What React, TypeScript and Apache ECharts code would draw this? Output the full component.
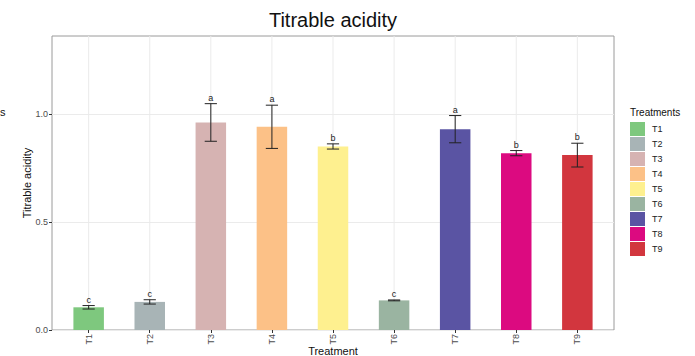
import React, { useEffect, useRef } from "react";
import * as echarts from "echarts";

const categories = ["T1", "T2", "T3", "T4", "T5", "T6", "T7", "T8", "T9"];
const means = [0.105, 0.13, 0.96, 0.94, 0.849, 0.137, 0.929, 0.818, 0.809];
const errors = [0.008, 0.01, 0.087, 0.1, 0.012, 0.002, 0.063, 0.012, 0.055];
const letters = ["c", "c", "a", "a", "b", "c", "a", "b", "b"];
const colors = ["#7ec87e", "#a8b4b6", "#d6b3b2", "#fcc187", "#fef08f", "#9ab4a1", "#5a54a3", "#dc0a80", "#d2363e"];
const yLabelTicks = [0, 0.5, 1.0];
const yMax = 1.36;

const FONT = "Liberation Sans, Arial, sans-serif";

export default function App() {
  const ref = useRef<HTMLDivElement>(null);
  useEffect(() => {
    if (!ref.current) return;
    const chart = echarts.init(ref.current, null, { renderer: "svg" });
    const xs = categories.map((_, i) => i + 1);

    const barSeries = categories.map((name, i) => ({
      type: "bar",
      name,
      data: [[i + 1, means[i]]],
      barWidth: 30.5,
      barGap: "-100%",
      itemStyle: { color: colors[i] },
      z: 2,
      silent: true,
    }));

    const option: any = {
      animation: false,
      textStyle: { fontFamily: FONT },
      grid: {
        left: 52,
        right: 81,
        top: 36,
        bottom: 26,
        show: true,
        borderColor: "#9a9a9a",
        borderWidth: 1,
        backgroundColor: "transparent",
      },
      xAxis: {
        type: "value",
        min: 0.4,
        max: 9.6,
        axisLine: { show: false },
        splitLine: { show: false },
        axisTick: { show: true, customValues: xs, length: 3, lineStyle: { color: "#333" } },
        axisLabel: {
          customValues: xs,
          rotate: 90,
          margin: 4,
          fontSize: 9,
          color: "#4d4d4d",
          fontFamily: FONT,
          formatter: (v: number) => categories[Math.round(v) - 1] ?? "",
        },
      },
      yAxis: {
        type: "value",
        min: 0,
        max: yMax,
        interval: 0.25,
        axisLine: { show: false },
        splitLine: { show: true, lineStyle: { color: "#ebebeb", width: 1 } },
        axisTick: { show: true, customValues: yLabelTicks, length: 3, lineStyle: { color: "#333" } },
        axisLabel: {
          customValues: yLabelTicks,
          margin: 4,
          fontSize: 9,
          color: "#4d4d4d",
          fontFamily: FONT,
          formatter: (v: number) => v.toFixed(1),
        },
      },
      legend: {
        orient: "vertical",
        left: 630,
        top: 122,
        padding: 0,
        itemWidth: 15,
        itemHeight: 14,
        itemGap: 1,
        icon: "rect",
        data: categories,
        selectedMode: false,
        textStyle: { fontSize: 9, color: "#222", fontFamily: FONT, padding: [0, 0, 0, 2] },
      },
      graphic: [
        {
          type: "text",
          x: 333,
          y: 20,
          style: { text: "Titrable acidity", fontSize: 20, fill: "#111", fontFamily: FONT, align: "center", verticalAlign: "middle" },
        },
        {
          type: "text",
          x: 27,
          y: 183,
          rotation: Math.PI / 2,
          style: { text: "Titrable acidity", fontSize: 11, fill: "#111", fontFamily: FONT, align: "center", verticalAlign: "middle" },
        },
        {
          type: "text",
          x: 333,
          y: 351,
          style: { text: "Treatment", fontSize: 11, fill: "#111", fontFamily: FONT, align: "center", verticalAlign: "middle" },
        },
        {
          type: "text",
          x: 630,
          y: 112,
          style: { text: "Treatments", fontSize: 10, fill: "#111", fontFamily: FONT, align: "left", verticalAlign: "middle" },
        },
        {
          type: "text",
          x: 0,
          y: 112,
          style: { text: "s", fontSize: 11, fill: "#111", fontFamily: FONT, align: "left", verticalAlign: "middle" },
        },
      ],
      series: [
        {
          type: "custom",
          silent: true,
          z: 1,
          data: xs.map((x) => [x, 0]),
          renderItem: (_p: any, api: any) => {
            const x = api.value(0);
            const p0 = api.coord([x, 0]);
            const p1 = api.coord([x, yMax]);
            return {
              type: "line",
              shape: { x1: p0[0], y1: p0[1], x2: p1[0], y2: p1[1] },
              style: { stroke: "#ebebeb", lineWidth: 1 },
            };
          },
        },
        ...barSeries,
        {
          type: "custom",
          silent: true,
          z: 3,
          data: categories.map((_, i) => [i + 1, means[i] - errors[i], means[i] + errors[i], i]),
          renderItem: (_p: any, api: any) => {
            const x = api.value(0);
            const lo = api.coord([x, api.value(1)]);
            const hi = api.coord([x, api.value(2)]);
            const half = api.size([0.1, 0])[0];
            const stroke = { stroke: "#222", lineWidth: 1 };
            return {
              type: "group",
              children: [
                { type: "line", shape: { x1: lo[0], y1: lo[1], x2: hi[0], y2: hi[1] }, style: stroke },
                { type: "line", shape: { x1: lo[0] - half, y1: lo[1], x2: lo[0] + half, y2: lo[1] }, style: stroke },
                { type: "line", shape: { x1: hi[0] - half, y1: hi[1], x2: hi[0] + half, y2: hi[1] }, style: stroke },
                {
                  type: "text",
                  style: {
                    text: letters[api.value(3)],
                    x: hi[0],
                    y: hi[1] - 6,
                    fill: "#222",
                    fontSize: 9,
                    fontFamily: FONT,
                    align: "center",
                    verticalAlign: "middle",
                  },
                },
              ],
            };
          },
        },
      ],
    };
    chart.setOption(option);
    return () => chart.dispose();
  }, []);
  return <div ref={ref} style={{ width: 695, height: 356, position: "absolute", left: 0, top: 0 }} />;
}
